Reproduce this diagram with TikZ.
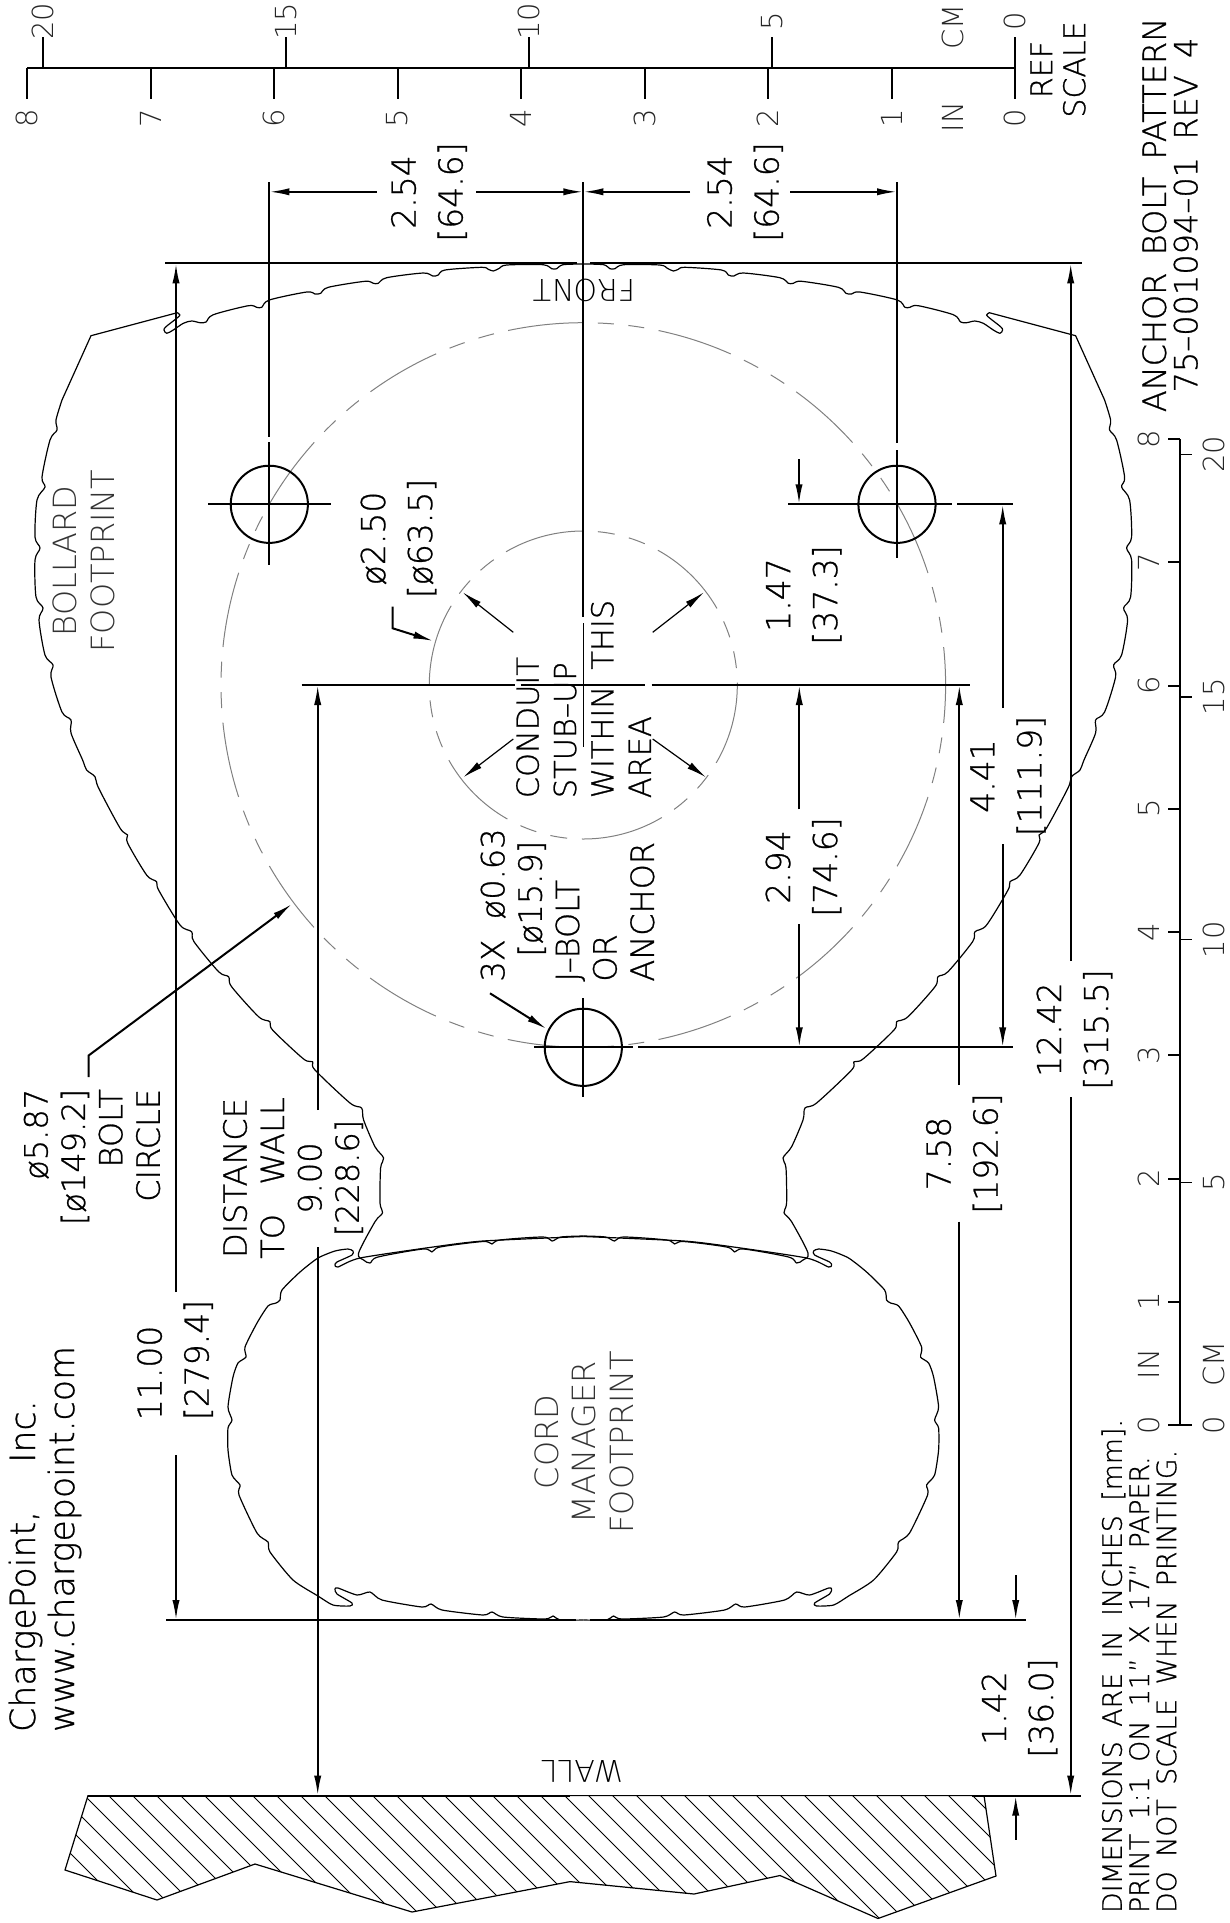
\documentclass[tikz,border=0pt]{standalone}
\usepackage{fontspec}
\setmainfont{DejaVu Sans}
\newfontfamily\dimfont[FakeBold=0.8]{DejaVu Sans ExtraLight}
\newfontfamily\widefont[FakeBold=0.8,WordSpace=1.7]{DejaVu Sans ExtraLight}
\newfontfamily\thinfont{DejaVu Sans ExtraLight}
\usetikzlibrary{arrows.meta}
\tikzstyle{dimtext} = [font=\dimfont\fontsize{16.5}{23.5}\selectfont, align=center, rotate=90, inner sep=0pt]
\tikzstyle{notetext} = [font=\dimfont\fontsize{16}{18.7}\selectfont, align=center, rotate=90, inner sep=0pt]
\tikzstyle{faint} = [font=\thinfont\fontsize{16}{18.7}\selectfont, align=center, rotate=90, inner sep=0pt, text=black!80]
\tikzstyle{scaletext} = [font=\thinfont\fontsize{14.5}{16}\selectfont, rotate=90, inner sep=0pt, text=black!85]
\tikzstyle{edge} = [line width=1pt]
\tikzstyle{thinedge} = [line width=0.6pt]
\tikzstyle{arrow} = [line width=1pt, ->, >={Latex[length=10pt,width=3.6pt]}]
\tikzstyle{thinarrow} = [line width=0.6pt, ->, >={Latex[length=10pt,width=3.6pt]}]
\tikzstyle{zone} = [line width=0.5pt, draw=black!50]
\tikzstyle{outline} = [line width=0.6pt, line join=round]

\begin{document}
\begin{tikzpicture}[x=0.5pt,y=-0.5pt]
\useasboundingbox (0,0) rectangle (1230,1923);

% reference scales
\draw [edge] (27,68.3) -- (1015,68.3);
\foreach \n in {0,...,8} {
  \draw [edge] ({1015-123.5*\n},68.3) -- ++(0,30.7);
  \node (topin\n) [scaletext] at ({1015-123.5*\n},118) {\n};
  \draw [edge] (1180.4,{1425-123.25*\n}) -- ++(-12,0);
  \node (sidein\n) [scaletext] at (1149,{1425-123.25*\n}) {\n};
}
\foreach \n/\lab in {0/0,1/5,2/10,3/15,4/20} {
  \draw [thinedge] ({1015-243*\n},68.3) -- ++(0,-31);
  \node (topcm\lab) [scaletext] at ({1015-243*\n},21) {\lab};
  \draw [thinedge] (1180.4,{1425-242.7*\n}) -- ++(12,0);
  \node (sidecm\lab) [scaletext] at (1214,{1425-242.7*\n}) {\lab};
}
\draw [edge] (1180.4,439) -- (1180.4,1425);
\node (topcm) [scaletext] at (953,27) {CM};
\node (topin) [scaletext] at (953,117) {IN};
\node (sidein) [scaletext] at (1149,1364) {IN};
\node (sidecm) [scaletext] at (1214,1364) {CM};
\node (refscale) [font=\dimfont\fontsize{15}{16.5}\selectfont, align=center, rotate=90, inner sep=0pt] at (1058,69.5) {REF\\SCALE};
\node (title) [font=\widefont\fontsize{16}{15.7}\selectfont, align=center, rotate=90, inner sep=0pt] at (1170,215) {ANCHOR BOLT PATTERN\\75–001094–01 REV 4};
\node (company) [font=\dimfont\fontsize{17.4}{19.5}\selectfont, align=left, rotate=90, inner sep=0pt] at (45,1539) {ChargePoint,\hspace{24pt}Inc.\\www.chargepoint.com};
\node (notes) [font=\widefont\fontsize{13.4}{13.6}\selectfont, align=left, rotate=90, inner sep=0pt] at (1139,1666) {DIMENSIONS ARE IN INCHES [mm].\\PRINT 1:1 ON 11” X 17” PAPER.\\DO NOT SCALE WHEN PRINTING.};

% wall
\begin{scope}
\clip (88,1795.6) -- (65,1870) -- (157,1900) -- (255,1864) -- (412,1912) -- (570,1881.6) -- (694,1894) -- (780,1875.5) -- (878,1918.5) -- (996,1876) -- (984,1795.6) -- cycle;
\foreach \h in {-60,-36,...,1000} {
  \draw [line width=0.4pt] (\h,1795) -- ++(135,135);
}
\end{scope}
\draw [thinedge] (88,1795.6) -- (65,1870) -- (157,1900) -- (255,1864) -- (412,1912) -- (570,1881.6) -- (694,1894) -- (780,1875.5) -- (878,1918.5) -- (996,1876) -- (984,1795.6) -- cycle;
\draw [edge] (972,1795.6) -- (1081,1795.6);
\node (wall) [font=\thinfont\fontsize{15}{16}\selectfont, rotate=180, inner sep=0pt] at (582,1771) {WALL};
\node (front) [font=\thinfont\fontsize{15}{16}\selectfont, rotate=180, inner sep=0pt] at (584,290) {FRONT};

% footprints, mirrored about the centre line
\foreach \sc in {1,-1} {
\begin{scope}[shift={({583.3*(1-\sc)},0)},xscale=\sc]
\draw [outline] plot [smooth, tension=0.5] coordinates {(583.3,264) (563,264.7) (556.7,268.7) (551.7,268.7) (543,264.7) (506.7,265) (499.3,268.3) (493.3,271) (488.3,269.3) (481.7,267.3) (445,270) (438.3,275) (432.7,276) (423.3,273) (386.7,277.7) (378.3,283.3) (373.3,283.3) (365,281.3) (328.3,287.3) (320.7,293.3) (315,294) (306.7,292) (269.3,300) (261.7,307.3) (256.7,307.3) (248.3,305.7) (213.3,314.7) (206,322) (200,322.7) (191.7,321) (183.3,323.3) (173.3,330) (166.7,333.3) (164,330) (166,326.7) (176.7,318.3) (180,315) (177.3,312.7)}
  -- (91,335.7) -- (62,400)
  -- plot [smooth, tension=0.5] coordinates {(62,400) (56,420) (57,430) (50,440) (42,477) (45,487) (37,500) (35,537) (40,548) (35,560) (36,597) (43,608) (39,620) (45,655) (53,665) (51,677) (62,712) (71,720) (71,733) (82.6,760) (86.6,770) (95,776.7) (98.6,788) (120,828) (127.6,835) (127.6,843) (146.6,875) (156.6,881.7) (158.6,890) (180,925) (191.6,931.7) (194,941.7) (218.6,971.7) (228.6,976.7) (231.6,986.7) (258.6,1016.7) (270,1021.7) (272.6,1030) (303.6,1059) (312.6,1061.7) (315,1070) (350,1103) (361.6,1108) (363.6,1120) (375,1146.7) (383.6,1158) (380.6,1168) (380,1203) (382.6,1212.7) (375,1221.7) (358.6,1253) (363.6,1260) (370,1263) (378,1257) (423,1249) (432,1252) (440,1247) (483,1241.5) (492,1244) (500,1240) (543,1237) (552,1241) (561,1237) (583.3,1236)};
\draw [outline] plot [smooth, tension=0.4] coordinates {(583.3,1236.5) (483,1241) (433,1247) (360,1258) (338,1267) (335,1265) (337,1262) (352,1255) (353,1251) (348,1249) (335,1251) (318,1258) (300,1272) (282,1290) (280,1300) (276,1303) (268,1306) (257,1323) (245,1347) (246,1357) (238,1363) (233,1377) (228,1407) (232,1420) (228,1428) (228,1450) (232,1475) (240,1485) (239,1495) (257,1533) (268,1542) (270,1552) (293,1580) (318,1596) (333,1605) (350,1606) (352,1603) (337,1594) (335,1589) (338,1588) (357,1595) (370,1592) (382,1600) (422,1607) (431,1604) (442,1610) (483,1615) (492,1612) (503,1617) (545,1619) (553,1616) (560,1620) (583.3,1620)};
\end{scope}
}
\node (bollard) [faint] at (84,561) {BOLLARD\\FOOTPRINT};
\node (cord) [faint] at (584,1442) {CORD\\MANAGER\\FOOTPRINT};

% bolt circle and conduit area
\coordinate (centre) at (583.3,685);
\draw [zone, dash pattern=on 38pt off 7.3pt on 8pt off 7.3pt on 8pt off 7.3pt, dash phase=38pt] (583.3,322.7) arc [start angle=-90, end angle=270, radius=362.3];
\draw [zone, dash pattern=on 42pt off 7.3pt on 8.5pt off 7.3pt on 8.5pt off 7.3pt, dash phase=42pt] (583.3,531) arc [start angle=-90, end angle=270, radius=154];

% holes
\foreach \hx/\hy/\hname in {269.3/504.3/holeleft, 897/504.3/holeright, 583.3/1047.3/holelow} {
  \draw [edge] (\hx,\hy) circle [radius=38.6];
  \coordinate (\hname) at (\hx,\hy);
}
\draw [edge] (208.3,504.3) -- (330.7,504.3);
\draw [edge] (269.3,442) -- (269.3,565);
\draw [edge] (269.3,182) -- (269.3,436.7);
\draw [edge] (897,182) -- (897,443);
\draw [edge] (897,450) -- (897,558);
\draw [edge] (788.3,504.3) -- (951.7,504.3);
\draw [edge] (957.3,504.3) -- (1013.3,504.3);
\draw [edge] (583.3,182) -- (583.3,617);
\draw [thinedge] (583.3,623) -- (583.3,746.7);
\draw [edge] (583.3,998) -- (583.3,1097);
\draw [edge] (534,1047.3) -- (632.7,1047.3);
\draw [edge] (638.3,1047.3) -- (1013.3,1047.3);

% extension lines
\draw [edge] (165.3,263.3) -- (576.7,263.3);
\draw [edge] (590,263.3) -- (1081.7,263.3);
\draw [edge] (301.7,685) -- (515,685);
\draw [thinedge] (520.7,685) -- (645,685);
\draw [edge] (571.7,685) -- (595,685);
\draw [edge] (651.7,685) -- (970,685);
\draw [edge] (166,1620) -- (576,1620);
\draw [edge] (590,1620) -- (1026,1620);
\draw [edge] (88,1795.6) -- (570,1795.6);

% dimensions
\draw [arrow] (376.5,191.8) -- (269.3,191.8);
\draw [arrow] (476,191.8) -- (583.3,191.8);
\draw [arrow] (690,191.8) -- (583.3,191.8);
\draw [arrow] (790,191.8) -- (897,191.8);
\node (bolta) [dimtext] at (429,192) {2.54\\{[}64.6{]}};
\node (boltb) [dimtext] at (745,192) {2.54\\{[}64.6{]}};
\draw [arrow] (176,1292) -- (176,263.3);
\draw [arrow] (176,1455) -- (176,1620);
\node (depth) [dimtext, align=left] at (175,1360) {11.00\\{[}279.4{]}};
\draw [arrow] (1070.7,961) -- (1070.7,263.3);
\draw [arrow] (1070.7,1097) -- (1070.7,1795.6);
\node (total) [dimtext] at (1074.5,1029.5) {12.42\\{[}315.5{]}};
\draw [arrow] (317.7,1110) -- (317.7,685);
\draw [arrow] (317.7,1247) -- (317.7,1795.6);
\node (distance) [notetext] at (293,1178) {DISTANCE\\TO WALL\\9.00\\{[}228.6{]}};
\draw [arrow] (959.3,1085) -- (959.3,685);
\draw [arrow] (959.3,1221.7) -- (959.3,1620);
\node (cordgap) [dimtext] at (964,1153.5) {7.58\\{[}192.6{]}};
\draw [arrow] (799.3,809.3) -- (799.3,685);
\draw [arrow] (799.3,924) -- (799.3,1047.3);
\node (boltrow) [dimtext] at (803.5,867) {2.94\\{[}74.6{]}};
\draw [arrow] (1002.7,708) -- (1002.7,504.3);
\draw [arrow] (1002.7,844) -- (1002.7,1047.3);
\node (rowgap) [dimtext] at (1008,776) {4.41\\{[}111.9{]}};
\draw [arrow] (799,459) -- (799,504.3);
\node (rowfront) [dimtext] at (803.8,595) {1.47\\{[}37.3{]}};
\draw [arrow] (1015.7,1575) -- (1015.7,1620);
\draw [arrow] (1015.7,1839.5) -- (1015.7,1795.6);
\node (wallgap) [dimtext] at (1019.5,1708) {1.42\\{[}36.0{]}};

% leaders
\node (boltdia) [notetext, align=right] at (92,1157) {ø5.87\\{[}ø149.2{]}\\BOLT\\CIRCLE};
\draw [arrow] (88.6,1077) -- (88.6,1055.5) -- (292,904);
\node (holedia) [notetext, align=left] at (567.5,905) {3X\hspace{10pt}ø0.63\\\hspace*{12.5pt}{[}ø15.9{]}\\J–BOLT\\OR\\ANCHOR};
\draw [arrow] (490,993.3) -- (546.7,1029);
\node (zonedia) [dimtext] at (398.5,538.5) {ø2.50\\{[}ø63.5{]}};
\draw [arrow] (392.7,606.7) -- (392.7,628.3) -- (433.3,641);
\node (conduit) [notetext, font=\dimfont\fontsize{15.2}{18.7}\selectfont, align=left] at (583.5,699) {CONDUIT\\STUB–UP\\WITHIN THIS\\AREA};
\draw [thinarrow] (513.3,632.3) -- (462.7,592.3);
\draw [thinarrow] (652.7,632.3) -- (704,592.3);
\draw [thinarrow] (513.3,739) -- (463.3,777.3);
\draw [thinarrow] (652.7,739) -- (706,777.3);
\end{tikzpicture}
\end{document}
